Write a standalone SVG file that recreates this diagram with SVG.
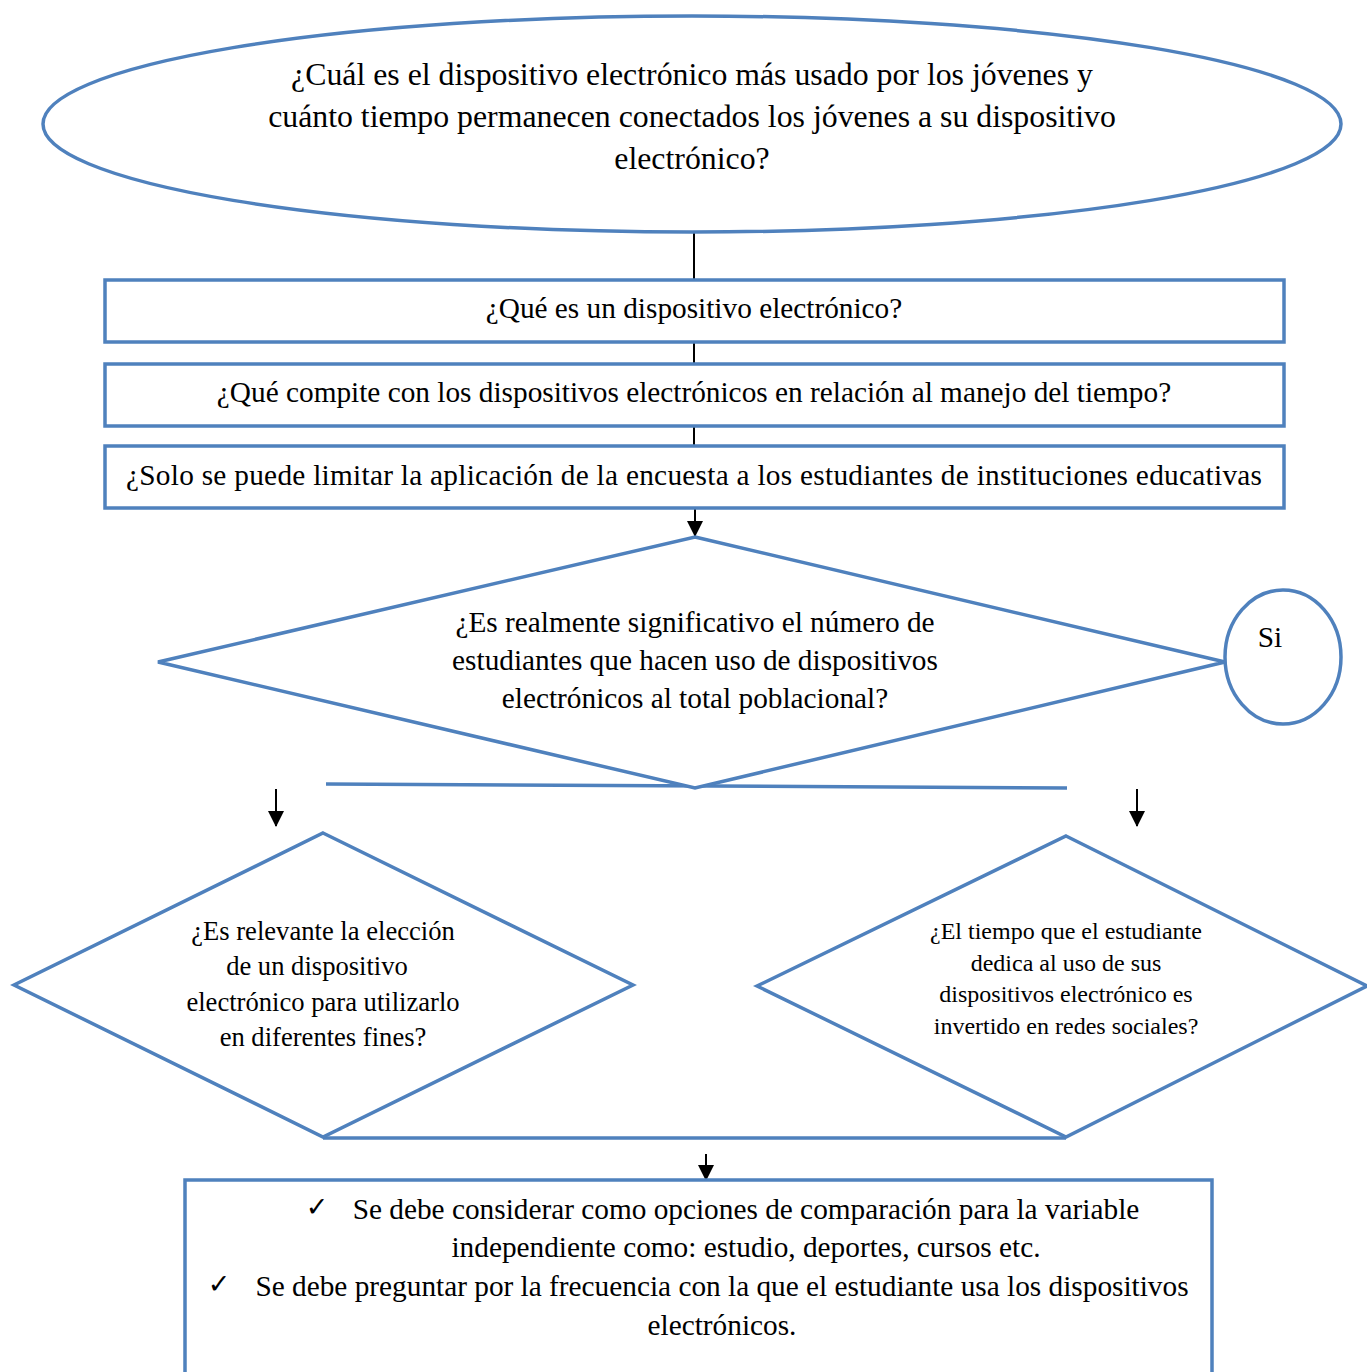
<svg xmlns="http://www.w3.org/2000/svg" width="1367" height="1372" viewBox="0 0 1367 1372">
<style>
.s{fill:#fff;stroke:#4f81bd;stroke-width:3.5}
.b{fill:none;stroke:#4f81bd;stroke-width:3.5}
.t{font-family:"Liberation Serif","Times New Roman",serif;font-size:29.3px;fill:#000;text-anchor:middle}
.e{font-size:31.8px}
.l{font-size:26.6px}
.r{font-size:24px}
.k{font-family:"DejaVu Sans",sans-serif;font-size:27px}
.c{stroke:#000;stroke-width:2;fill:none}
</style>
<defs>
<marker id="ah2" markerWidth="16" markerHeight="16" refX="15" refY="8" orient="auto" markerUnits="userSpaceOnUse" viewBox="0 0 16 16">
<path d="M0,0 L16,8 L0,16 z" fill="#000"/>
</marker>
</defs>
<g id="connectors">
<line class="c" x1="694" y1="232" x2="694" y2="280"/>
<line class="c" x1="694" y1="342" x2="694" y2="364"/>
<line class="c" x1="694" y1="426" x2="694" y2="446"/>
<line class="c" x1="695" y1="508" x2="695" y2="536" marker-end="url(#ah2)"/>
<line class="b" x1="326" y1="784" x2="1067" y2="788"/>
<line class="c" x1="276" y1="789" x2="276" y2="826" marker-end="url(#ah2)"/>
<line class="c" x1="1137" y1="789" x2="1137" y2="826" marker-end="url(#ah2)"/>
<line class="b" x1="323" y1="1138" x2="1066" y2="1138"/>
<line class="c" x1="706" y1="1154" x2="706" y2="1180" marker-end="url(#ah2)"/>
</g>
<g id="n-question">
<ellipse class="s" cx="692" cy="124" rx="649" ry="108"/>
<text class="t e" x="692" y="85">¿Cuál es el dispositivo electrónico más usado por los jóvenes y</text>
<text class="t e" x="692" y="127">cuánto tiempo permanecen conectados los jóvenes a su dispositivo</text>
<text class="t e" x="692" y="169">electrónico?</text>
</g>
<g id="n-box1">
<rect class="s" x="105" y="280" width="1179" height="62"/>
<text class="t" x="694" y="318">¿Qué es un dispositivo electrónico?</text>
</g>
<g id="n-box2">
<rect class="s" x="105" y="364" width="1179" height="62"/>
<text class="t" x="694" y="402">¿Qué compite con los dispositivos electrónicos en relación al manejo del tiempo?</text>
</g>
<g id="n-box3">
<rect class="s" x="105" y="446" width="1179" height="62"/>
<text class="t" x="694" y="485" textLength="1136" lengthAdjust="spacing">¿Solo se puede limitar la aplicación de la encuesta a los estudiantes de instituciones educativas</text>
</g>
<g id="n-decision">
<polygon class="s" points="695,537 1225,662 695,788 158,662"/>
<text class="t" x="695" y="632">¿Es realmente significativo el número de</text>
<text class="t" x="695" y="670">estudiantes que hacen uso de dispositivos</text>
<text class="t" x="695" y="708">electrónicos al total poblacional?</text>
</g>
<g id="n-si">
<ellipse class="s" cx="1283" cy="657" rx="58" ry="67"/>
<text class="t" x="1270" y="647">Si</text>
</g>
<g id="n-left">
<polygon class="s" points="323,833 633,985 323,1137 14,985"/>
<text class="t l" x="323" y="940">¿Es relevante la elección</text>
<text class="t l" x="317" y="975">de un dispositivo</text>
<text class="t l" x="323" y="1011">electrónico para utilizarlo</text>
<text class="t l" x="323" y="1046">en diferentes fines?</text>
</g>
<g id="n-right">
<polygon class="s" points="1066,836 1367,986 1066,1137 757,986"/>
<text class="t r" x="1066" y="939">¿El tiempo que el estudiante</text>
<text class="t r" x="1066" y="971">dedica al uso de sus</text>
<text class="t r" x="1066" y="1002">dispositivos electrónico es</text>
<text class="t r" x="1066" y="1034">invertido en redes sociales?</text>
</g>
<g id="n-result">
<rect class="s" x="185" y="1180" width="1027" height="200"/>
<text class="t k" x="317" y="1216">✓</text>
<text class="t" x="746" y="1219">Se debe considerar como opciones de comparación para la variable</text>
<text class="t" x="746" y="1257">independiente como: estudio, deportes, cursos etc.</text>
<text class="t k" x="219" y="1293">✓</text>
<text class="t" x="722" y="1296">Se debe preguntar por la frecuencia con la que el estudiante usa los dispositivos</text>
<text class="t" x="722" y="1335">electrónicos.</text>
</g>
</svg>
